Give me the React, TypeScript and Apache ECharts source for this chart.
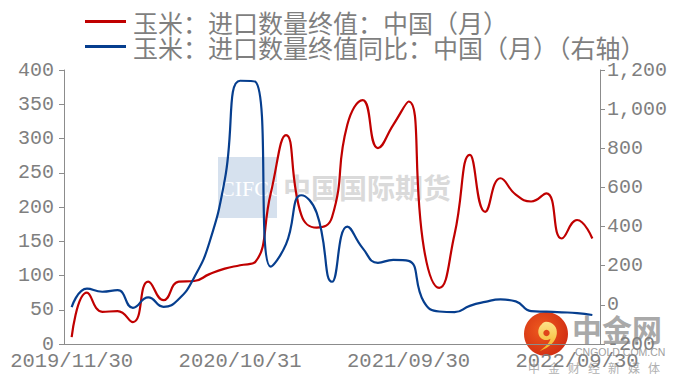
import React, { useEffect, useRef } from "react";
import * as echarts from "echarts";

const categories = [
  "2019/11/30", "2019/12/31", "2020/01/31", "2020/02/29", "2020/03/31", "2020/04/30",
  "2020/05/31", "2020/06/30", "2020/07/31", "2020/08/31", "2020/09/30", "2020/10/31",
  "2020/11/30", "2020/12/31", "2021/01/31", "2021/02/28", "2021/03/31", "2021/04/30",
  "2021/05/31", "2021/06/30", "2021/07/31", "2021/08/31", "2021/09/30", "2021/10/31",
  "2021/11/30", "2021/12/31", "2022/02/28", "2022/03/31", "2022/04/30", "2022/05/31",
  "2022/06/30", "2022/07/31", "2022/08/31", "2022/09/30", "2022/10/31",
];

const importVolume = [
  10, 75, 47, 48, 32, 91, 64, 91, 92, 102, 110, 115, 120, 220, 305, 188, 170, 185,
  320, 356, 286, 320, 354, 140, 82, 160, 276, 193, 242, 218, 208, 220, 154, 181, 154,
];

const importYoY = [
  -12, 83, 67, 75, -15, 38, -10, 30, 140, 320, 640, 1145, 1140, 195, 310, 560, 470, 118,
  400, 290, 215, 230, 225, 15, -34, -37, -5, 15, 28, 18, -32, -35, -38, -42, -52,
];

const seriesNames = ["玉米：进口数量终值：中国（月）", "玉米：进口数量终值同比：中国（月）（右轴）"];
const leftTicks = { min: 0, max: 400, interval: 50 };
const rightTicks = { min: -200, max: 1200, interval: 200 };

const swirl =
  "M20 6 C28 6 33 12 32 19 C31 27 24 33 13 37 C21 31 24 28 25 24 C22 26 17 26 14 23 C10 19 11 12 15 9 C16.5 7 18 6 20 6 Z";

let registered = false;

export default function App() {
  const ref = useRef<HTMLDivElement>(null);
  useEffect(() => {
    if (!ref.current) return;
    if (!registered) {
      echarts.graphic.registerShape("swirlLogo", (echarts.graphic as any).extendPath(swirl, {}));
      registered = true;
    }
    const chart = echarts.init(ref.current, null, { renderer: "svg" });
    const axisColor = "#8c8c8c";
    const labelColor = "#7f7f7f";
    const mono = "Liberation Mono";
    const smallChars = "中金财经新媒体".split("");
    chart.setOption({
      animation: false,
      backgroundColor: "#ffffff",
      legend: {
        orient: "vertical",
        left: 80,
        top: 4,
        itemWidth: 41,
        itemHeight: 3,
        itemGap: 0,
        icon: "rect",
        textStyle: {
          fontFamily: "Noto Sans CJK SC",
          fontSize: 25,
          color: labelColor,
          lineHeight: 25,
          padding: [0, 0, 0, 2],
        },
        data: seriesNames,
      },
      grid: { left: 64, right: 80, top: 70, bottom: 40 },
      xAxis: {
        type: "category",
        data: categories,
        boundaryGap: true,
        axisLine: { onZero: false, lineStyle: { color: axisColor, width: 1 } },
        axisTick: { interval: 10, length: 5, lineStyle: { color: axisColor } },
        axisLabel: {
          interval: 10,
          margin: 7,
          color: labelColor,
          fontFamily: mono,
          fontSize: 20.5,
        },
        splitLine: { show: false },
      },
      yAxis: [
        {
          type: "value",
          position: "left",
          ...leftTicks,
          axisLine: { show: true, lineStyle: { color: axisColor } },
          axisTick: { show: true, length: 5, lineStyle: { color: axisColor } },
          axisLabel: { margin: 10, color: labelColor, fontFamily: mono, fontSize: 20 },
          splitLine: { show: false },
        },
        {
          type: "value",
          position: "right",
          ...rightTicks,
          axisLine: { show: true, lineStyle: { color: axisColor } },
          axisTick: { show: true, length: 5, lineStyle: { color: axisColor } },
          axisLabel: {
            margin: 7,
            color: labelColor,
            fontFamily: mono,
            fontSize: 20,
            formatter: (v: number) => v.toLocaleString("en-US"),
          },
          splitLine: { show: false },
        },
      ],
      series: [
        {
          name: seriesNames[0],
          type: "line",
          yAxisIndex: 0,
          data: importVolume,
          smooth: 0.5,
          symbol: "none",
          lineStyle: { color: "#C00000", width: 2.2 },
          itemStyle: { color: "#C00000" },
          z: 3,
        },
        {
          name: seriesNames[1],
          type: "line",
          yAxisIndex: 1,
          data: importYoY,
          smooth: 0.5,
          symbol: "none",
          lineStyle: { color: "#063E8E", width: 2.2 },
          itemStyle: { color: "#063E8E" },
          z: 3,
        },
      ],
      graphic: [
        {
          type: "group",
          z: -10,
          silent: true,
          children: [
            { type: "rect", shape: { x: 218, y: 157, width: 59, height: 61 }, style: { fill: "#D6E1EE" } },
            {
              type: "text",
              x: 220,
              y: 188,
              style: {
                text: "CIFCO",
                fill: "#ffffff",
                font: "22px 'Liberation Serif'",
                verticalAlign: "middle",
              },
            },
            {
              type: "text",
              x: 283,
              y: 187,
              style: {
                text: "中国国际期货",
                fill: "#dadada",
                font: "bold 28px 'Noto Sans CJK SC'",
                verticalAlign: "middle",
              },
            },
          ],
        },
        {
          type: "group",
          z: 100,
          silent: true,
          children: [
            {
              type: "circle",
              shape: { cx: 546, cy: 334, r: 22 },
              style: {
                fill: new echarts.graphic.RadialGradient(0.4, 0.4, 0.7, [
                  { offset: 0, color: "#EE5A1E" },
                  { offset: 1, color: "#CF2A12" },
                ]),
              },
            },
            {
              type: "swirlLogo",
              x: 528,
              y: 316,
              scaleX: 0.9,
              scaleY: 0.95,
              style: {
                fill: new echarts.graphic.LinearGradient(0, 0, 0, 1, [
                  { offset: 0, color: "#FCE38A" },
                  { offset: 1, color: "#F5B021" },
                ]),
              },
            },
            { type: "circle", shape: { cx: 546.5, cy: 333, r: 3.2 }, style: { fill: "#E0451A" } },
            {
              type: "text",
              x: 572,
              y: 328,
              style: {
                text: "中金网",
                fill: "#a9a9a9",
                font: "bold 30px 'Noto Sans CJK SC'",
                verticalAlign: "middle",
              },
            },
            {
              type: "text",
              x: 575,
              y: 352,
              style: {
                text: "CNGOLD.COM.CN",
                fill: "#a0a0a0",
                font: "10.5px 'Liberation Sans'",
                verticalAlign: "middle",
              },
            },
            ...smallChars.map((c, i) => ({
              type: "text",
              x: 528 + i * 20,
              y: 367,
              style: {
                text: c,
                fill: "#b0b0b0",
                font: "12px 'Noto Sans CJK SC'",
                verticalAlign: "middle",
              },
            })),
          ],
        },
      ],
    });
    return () => chart.dispose();
  }, []);
  return <div ref={ref} style={{ width: 680, height: 384, position: "absolute", left: 0, top: 0 }} />;
}
